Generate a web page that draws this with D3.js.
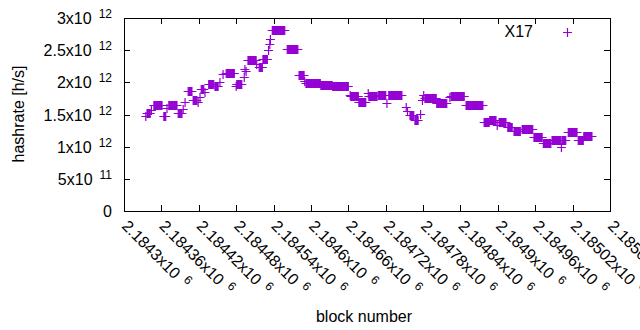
<!DOCTYPE html>
<html>
<head>
<meta charset="utf-8">
<script src="https://cdn.jsdelivr.net/npm/d3@7"></script>
<style>
  body { margin: 0; background: #fff; }
  text { font-family: "Liberation Sans", Arial, sans-serif; fill: #000; }
</style>
</head>
<body>
<div id="chart"></div>
<script>
// runs of blocks that share one hashrate value (h/s); single points have start == end
const runStart = [2184335, 2184337, 2184344, 2184348, 2184364, 2184369, 2184372, 2184387, 2184395, 2184398,
    2184403, 2184411, 2184419, 2184422, 2184424, 2184430, 2184436, 2184446, 2184454, 2184459,
    2184464, 2184480, 2184481, 2184493, 2184494, 2184496, 2184499, 2184513, 2184517, 2184523,
    2184532, 2184534, 2184535, 2184538, 2184562, 2184581, 2184590, 2184592, 2184616, 2184635,
    2184663, 2184664, 2184677, 2184692, 2184693, 2184708, 2184722, 2184725, 2184753, 2184755,
    2184759, 2184767, 2184776, 2184779, 2184781, 2184783, 2184802, 2184823, 2184825, 2184849,
    2184878, 2184887, 2184899, 2184902, 2184916, 2184926, 2184939, 2184958, 2184973, 2184987,
    2185002, 2185003, 2185013, 2185029, 2185038];
const runEnd = [2184335, 2184342, 2184344, 2184361, 2184367, 2184369, 2184385, 2184393, 2184395, 2184398,
    2184409, 2184417, 2184419, 2184422, 2184428, 2184430, 2184444, 2184451, 2184454, 2184459,
    2184477, 2184480, 2184489, 2184493, 2184494, 2184496, 2184512, 2184513, 2184522, 2184530,
    2184532, 2184534, 2184535, 2184558, 2184579, 2184589, 2184590, 2184615, 2184634, 2184660,
    2184663, 2184676, 2184688, 2184692, 2184706, 2184720, 2184722, 2184746, 2184753, 2184755,
    2184765, 2184772, 2184776, 2184779, 2184781, 2184801, 2184818, 2184823, 2184846, 2184876,
    2184886, 2184897, 2184899, 2184913, 2184923, 2184936, 2184956, 2184971, 2184985, 2185001,
    2185002, 2185009, 2185027, 2185037, 2185051];
const runRate = [1.475e12, 1.53e12, 1.57e12, 1.65e12, 1.48e12, 1.60e12, 1.65e12, 1.53e12, 1.59e12, 1.69e12,
    1.86e12, 1.73e12, 1.69e12, 1.77e12, 1.90e12, 1.85e12, 1.98e12, 1.94e12, 2.00e12, 2.13e12,
    2.15e12, 1.94e12, 1.98e12, 2.09e12, 2.21e12, 2.18e12, 2.35e12, 2.28e12, 2.24e12, 2.37e12,
    2.50e12, 2.59e12, 2.68e12, 2.82e12, 2.52e12, 2.12e12, 2.02e12, 1.99e12, 1.96e12, 1.95e12,
    1.81e12, 1.78e12, 1.70e12, 1.83e12, 1.79e12, 1.80e12, 1.68e12, 1.80e12, 1.61e12, 1.56e12,
    1.49e12, 1.42e12, 1.51e12, 1.72e12, 1.80e12, 1.75e12, 1.68e12, 1.77e12, 1.78e12, 1.64e12,
    1.39e12, 1.42e12, 1.34e12, 1.39e12, 1.30e12, 1.25e12, 1.28e12, 1.15e12, 1.05e12, 1.11e12,
    0.99e12, 1.10e12, 1.23e12, 1.10e12, 1.17e12];

const xTicks = d3.range(2184300, 2185081, 60);
const yTicks = [0, 5e11, 1e12, 1.5e12, 2e12, 2.5e12, 3e12];
const seriesName = "X17";

const W = 640, H = 330;
const plot = { left: 124, right: 610, top: 18, bottom: 211 };
const purple = "#9400d3";

const svg = d3.select("#chart").append("svg")
    .attr("width", W)
    .attr("height", H);

const x = d3.scaleLinear().domain([2184300, 2185080]).range([plot.left, plot.right]);
const y = d3.scaleLinear().domain([0, 3e12]).range([plot.bottom, plot.top]);

// split a number into mantissa and power of ten, gnuplot style
function sci(v) {
    if (v === 0) return { m: "0", e: null };
    const e = Math.floor(Math.log10(v));
    const m = +(v / Math.pow(10, e)).toPrecision(8);
    return { m: m + "x10", e: e };
}

// ticks (inside, mirrored)
const tk = 6;
const ticks = svg.append("g").attr("stroke", "#000").attr("stroke-width", 1);
yTicks.forEach(v => {
    const yy = Math.round(y(v)) + 0.5;
    ticks.append("line").attr("x1", plot.left).attr("x2", plot.left + tk).attr("y1", yy).attr("y2", yy);
    ticks.append("line").attr("x1", plot.right - tk).attr("x2", plot.right).attr("y1", yy).attr("y2", yy);
});
xTicks.forEach(v => {
    const xx = Math.round(x(v)) + 0.5;
    ticks.append("line").attr("x1", xx).attr("x2", xx).attr("y1", plot.bottom).attr("y2", plot.bottom - tk);
    ticks.append("line").attr("x1", xx).attr("x2", xx).attr("y1", plot.top).attr("y2", plot.top + tk);
});

// y tick labels
yTicks.forEach(v => {
    const s = sci(v);
    const t = svg.append("text")
        .attr("x", 112)
        .attr("y", y(v) + 6)
        .attr("text-anchor", "end")
        .attr("font-size", 16)
        .text(s.m);
    if (s.e !== null) {
        t.append("tspan").attr("dx", 7).attr("dy", -6).attr("font-size", 12).text(s.e);
    }
});

// x tick labels, rotated
xTicks.forEach(v => {
    const s = sci(v);
    const t = svg.append("text")
        .attr("transform", `translate(${x(v) + 1},${223}) rotate(45)`)
        .attr("text-anchor", "start")
        .attr("font-size", 16)
        .attr("dy", "0.35em")
        .text(s.m);
    t.append("tspan").attr("dx", 7).attr("dy", -6).attr("font-size", 12).text(s.e);
});

// axis titles
svg.append("text")
    .attr("transform", `translate(24,114) rotate(-90)`)
    .attr("text-anchor", "middle")
    .attr("font-size", 16)
    .text("hashrate [h/s]");

svg.append("text")
    .attr("x", 364)
    .attr("y", 322)
    .attr("text-anchor", "middle")
    .attr("font-size", 16)
    .text("block number");

// points: one plus per block
const points = [];
runStart.forEach((s, i) => {
    d3.range(s, runEnd[i] + 1).forEach(b => points.push({ block: b, rate: runRate[i] }));
});

const plus = "M-4.5,0H4.5M0,-4.5V4.5";
svg.append("g")
    .selectAll("path")
    .data(points)
    .enter()
    .append("path")
    .attr("d", plus)
    .attr("transform", d => `translate(${x(d.block)},${Math.round(y(d.rate)) + 0.5})`)
    .attr("fill", "none")
    .attr("stroke", purple)
    .attr("stroke-width", 1.2);

// legend
svg.append("text")
    .attr("x", 533)
    .attr("y", 37)
    .attr("text-anchor", "end")
    .attr("font-size", 16)
    .text(seriesName);
svg.append("path")
    .attr("d", plus)
    .attr("transform", "translate(567.5,32.5)")
    .attr("fill", "none")
    .attr("stroke", purple)
    .attr("stroke-width", 1.2);

// border
svg.append("rect")
    .attr("x", plot.left + 0.5)
    .attr("y", plot.top + 0.5)
    .attr("width", plot.right - plot.left)
    .attr("height", plot.bottom - plot.top)
    .attr("fill", "none")
    .attr("stroke", "#000")
    .attr("stroke-width", 1);
</script>
</body>
</html>
